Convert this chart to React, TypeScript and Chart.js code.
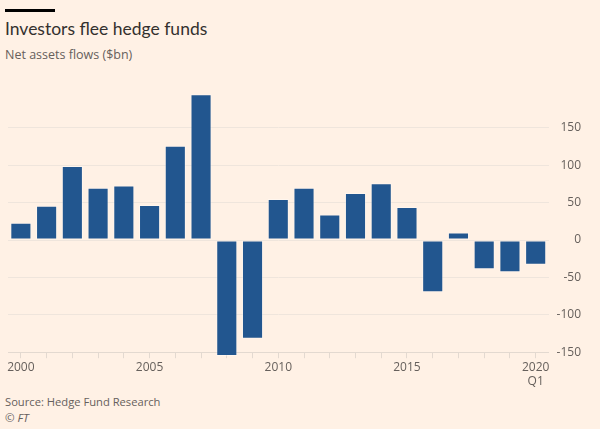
import React, { useEffect, useRef } from "react";
import { Chart, registerables } from "chart.js";

Chart.register(...registerables);

const years: string[] = [
  "2000", "2001", "2002", "2003", "2004", "2005", "2006", "2007", "2008", "2009",
  "2010", "2011", "2012", "2013", "2014", "2015", "2016", "2017", "2018", "2019", "2020",
];
const flows: number[] = [
  23, 46, 99, 70, 73, 47, 126, 195, -155, -132,
  55, 70, 34, 63, 76, 44, -70, 10, -39, -43, -33,
];
const shownLabels: Record<string, string | string[]> = {
  "2000": "2000",
  "2005": "2005",
  "2010": "2010",
  "2015": "2015",
  "2020": ["2020", "Q1"],
};
const yTicks: number[] = [-150, -100, -50, 0, 50, 100, 150];

const title = "Investors flee hedge funds";
const subtitle = "Net assets flows ($bn)";
const source = "Source: Hedge Fund Research";
const copyright = "© FT";

const BG = "#FFF1E5";
const FONT = "'Open Sans', 'Noto Sans', sans-serif";

export default function App() {
  const ref = useRef<HTMLCanvasElement | null>(null);

  useEffect(() => {
    if (!ref.current) return;
    const chart = new Chart(ref.current, {
      type: "bar",
      data: {
        labels: years,
        datasets: [
          {
            data: flows,
            backgroundColor: "#22568F",
            borderColor: "rgba(255,255,255,0.35)",
            borderWidth: 1,
            borderSkipped: false,
            categoryPercentage: 1,
            barPercentage: 0.82,
            clip: false,
          } as any,
        ],
      },
      options: {
        animation: false,
        responsive: false,
        maintainAspectRatio: false,
        layout: { padding: { left: 8, right: 19, top: 0, bottom: 0 } },
        plugins: {
          legend: { display: false },
          tooltip: { enabled: false },
          title: { display: false },
        },
        scales: {
          x: {
            grid: {
              offset: false,
              drawOnChartArea: false,
              drawTicks: true,
              tickLength: 6,
              color: "#E3D9D0",
            },
            border: { display: false },
            ticks: {
              autoSkip: false,
              maxRotation: 0,
              minRotation: 0,
              padding: 2,
              color: "#66605C",
              font: { family: FONT, size: 12 },
              callback: (_v: any, i: number) => shownLabels[years[i]] ?? "",
            },
          },
          y: {
            position: "right",
            min: -150,
            max: 195,
            grid: {
              color: (ctx: any) => (ctx.tick && ctx.tick.value === -150 ? "#E3D9D0" : "#EFE5DC"),
              drawTicks: false,
            },
            border: { display: false },
            afterBuildTicks: (axis: any) => {
              axis.ticks = yTicks.map((v) => ({ value: v }));
            },
            ticks: {
              padding: 4,
              crossAlign: "far",
              color: "#66605C",
              font: { family: FONT, size: 12 },
            },
          },
        },
      },
    });
    return () => chart.destroy();
  }, []);

  return (
    <div
      style={{
        position: "absolute",
        left: 0,
        top: 0,
        width: 600,
        height: 429,
        background: BG,
        overflow: "hidden",
        fontFamily: FONT,
      }}
    >
      <div style={{ position: "absolute", left: 5, top: 9, width: 50, height: 3, background: "#000" }} />
      <div style={{ position: "absolute", left: 5, top: 18, fontSize: 17.5, fontFamily: "Lato, sans-serif", color: "#33302E", whiteSpace: "nowrap" }}>
        {title}
      </div>
      <div style={{ position: "absolute", left: 5, top: 46, fontSize: 12.5, color: "#66605C", whiteSpace: "nowrap" }}>
        {subtitle}
      </div>
      <div style={{ position: "absolute", left: 0, top: 83, width: 600, height: 308 }}>
        <canvas ref={ref} width={600} height={308} style={{ display: "block" }} />
      </div>
      <div style={{ position: "absolute", left: 5, top: 394, fontSize: 11.2, color: "#66605C", whiteSpace: "nowrap" }}>
        {source}
      </div>
      <div style={{ position: "absolute", left: 5, top: 410, fontSize: 11.5, color: "#66605C", fontStyle: "italic", whiteSpace: "nowrap" }}>
        {copyright}
      </div>
    </div>
  );
}
